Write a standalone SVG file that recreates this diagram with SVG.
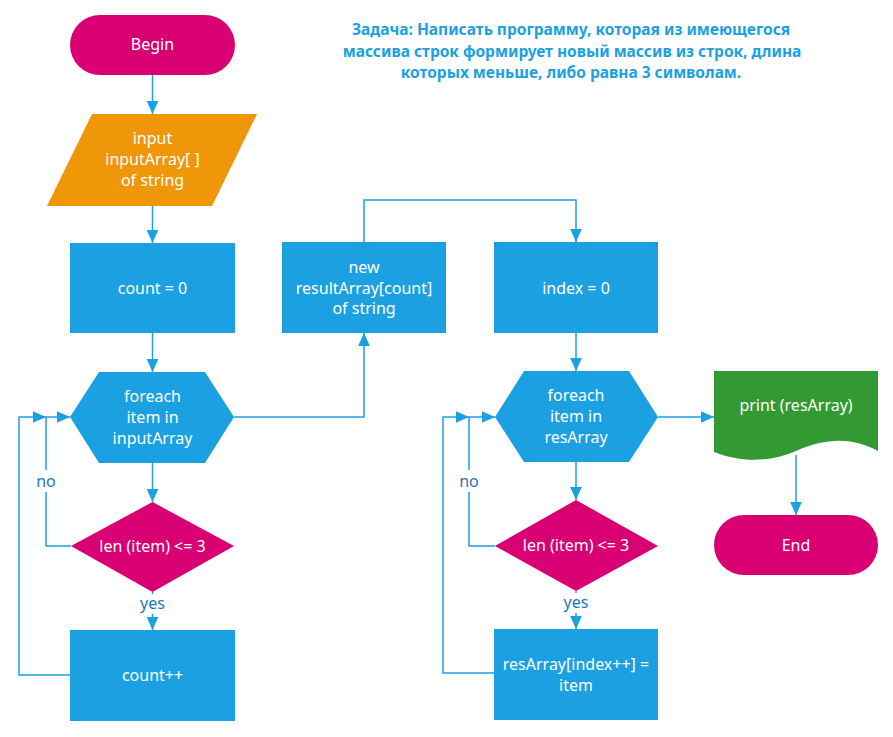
<svg xmlns="http://www.w3.org/2000/svg" width="893" height="737" viewBox="0 0 893 737">
<defs>
<marker id="ah" viewBox="0 0 10 10" refX="10" refY="5" markerWidth="13" markerHeight="13" markerUnits="userSpaceOnUse" orient="auto">
<path d="M0,0.5 L10,5 L0,9.5 Z" fill="#1ba1e2"/>
</marker>
<style>
.blue{fill:#1ba1e2}
.mag{fill:#d80073}
.org{fill:#f09609}
.grn{fill:#339933}
.t{font-family:"Noto Sans","Open Sans","Liberation Sans",sans-serif;font-size:16px;fill:#ffffff;text-anchor:middle;dominant-baseline:central}
.lbl{font-family:"Noto Sans","Open Sans","Liberation Sans",sans-serif;font-size:16px;fill:#1a7ab8;text-anchor:middle;dominant-baseline:central}
.title{font-family:"Noto Sans","Open Sans","Liberation Sans",sans-serif;font-size:15.5px;font-weight:bold;fill:#1ba1e2;text-anchor:middle}
.c{fill:none;stroke:#1ba1e2;stroke-width:1.5}
</style>
</defs>
<rect width="893" height="737" fill="#ffffff"/>

<g id="title">
<text class="title" x="571" y="35">Задача: Написать программу, которая из имеющегося</text>
<text class="title" x="572" y="57">массива строк формирует новый массив из строк, длина</text>
<text class="title" x="571" y="78">которых меньше, либо равна 3 символам.</text>
</g>

<g id="connectors">
<path class="c" d="M152.5,75 V114" marker-end="url(#ah)"/>
<path class="c" d="M152.5,206 V243" marker-end="url(#ah)"/>
<path class="c" d="M152.5,333 V372" marker-end="url(#ah)"/>
<path class="c" d="M152.5,463 V502" marker-end="url(#ah)"/>
<path class="c" d="M152.5,592 V630" marker-end="url(#ah)"/>
<path class="c" d="M71,546 H46 V417 H70" marker-end="url(#ah)"/>
<path class="c" d="M70,675 H19 V417 H46" marker-end="url(#ah)"/>
<path class="c" d="M234,417 H364 V333" marker-end="url(#ah)"/>
<path class="c" d="M364,242 V200 H576 V242" marker-end="url(#ah)"/>
<path class="c" d="M576,333 V371" marker-end="url(#ah)"/>
<path class="c" d="M576,462 V500" marker-end="url(#ah)"/>
<path class="c" d="M576,591 V629" marker-end="url(#ah)"/>
<path class="c" d="M495,546 H469 V417 H495" marker-end="url(#ah)"/>
<path class="c" d="M495,673 H443 V417 H469" marker-end="url(#ah)"/>
<path class="c" d="M658,417 H714" marker-end="url(#ah)"/>
<path class="c" d="M796,455 V515" marker-end="url(#ah)"/>
<rect x="34" y="470" width="24" height="22" fill="#ffffff"/>
<text class="lbl" x="46" y="481">no</text>
<rect x="457" y="470" width="24" height="22" fill="#ffffff"/>
<text class="lbl" x="469" y="481">no</text>
<rect x="137" y="594" width="32" height="20" fill="#ffffff"/>
<text class="lbl" x="152.5" y="603">yes</text>
<rect x="560" y="593" width="32" height="20" fill="#ffffff"/>
<text class="lbl" x="576" y="602">yes</text>
</g>

<g id="begin">
<rect class="mag" x="70" y="15" width="165" height="60" rx="30"/>
<text class="t" x="152.5" y="44">Begin</text>
</g>

<g id="input">
<polygon class="org" points="92,114 257,114 212,206 47,206"/>
<text class="t" x="152.5" y="138">input</text>
<text class="t" x="152.5" y="159">inputArray[ ]</text>
<text class="t" x="152.5" y="180">of string</text>
</g>

<g id="count0">
<rect class="blue" x="70" y="243" width="165" height="90"/>
<text class="t" x="152.5" y="288">count = 0</text>
</g>

<g id="foreach1">
<polygon class="blue" points="70,417 99,372 205,372 234,417 205,463 99,463"/>
<text class="t" x="152.5" y="396">foreach</text>
<text class="t" x="152.5" y="417">item in</text>
<text class="t" x="152.5" y="438">inputArray</text>
</g>

<g id="cond1">
<polygon class="mag" points="152.5,502 234,546 152.5,592 71,546"/>
<text class="t" x="152.5" y="546">len (item) &lt;= 3</text>
</g>

<g id="countinc">
<rect class="blue" x="70" y="630" width="165" height="91"/>
<text class="t" x="152.5" y="675">count++</text>
</g>

<g id="newarray">
<rect class="blue" x="282" y="242" width="164" height="91"/>
<text class="t" x="364" y="267">new</text>
<text class="t" x="364" y="288">resultArray[count]</text>
<text class="t" x="364" y="308">of string</text>
</g>

<g id="index0">
<rect class="blue" x="494" y="242" width="164" height="91"/>
<text class="t" x="576" y="288">index = 0</text>
</g>

<g id="foreach2">
<polygon class="blue" points="495,417 524,371 629,371 658,417 629,462 524,462"/>
<text class="t" x="576" y="395">foreach</text>
<text class="t" x="576" y="416">item in</text>
<text class="t" x="576" y="437">resArray</text>
</g>

<g id="cond2">
<polygon class="mag" points="576,500 658,546 576,591 495,546"/>
<text class="t" x="576" y="545">len (item) &lt;= 3</text>
</g>

<g id="assign">
<rect class="blue" x="494" y="629" width="164" height="91"/>
<text class="t" x="576" y="664">resArray[index++] =</text>
<text class="t" x="576" y="685">item</text>
</g>

<g id="print">
<path class="grn" d="M714,371 H878 V451 C852,437 826,438 796,451 C770,462 742,463 714,452 Z"/>
<text class="t" x="796" y="405">print (resArray)</text>
</g>

<g id="end">
<rect class="mag" x="714" y="515" width="164" height="60" rx="30"/>
<text class="t" x="796" y="545">End</text>
</g>
</svg>
